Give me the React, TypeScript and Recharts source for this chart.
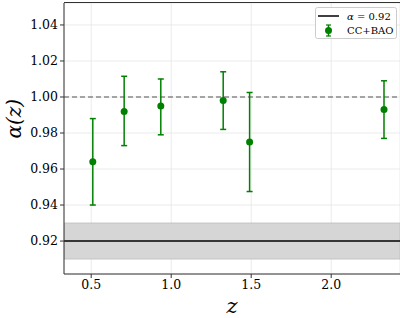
import React from 'react';
import {
  ComposedChart, Scatter, ErrorBar, XAxis, YAxis, CartesianGrid,
  ReferenceLine, ReferenceArea,
} from 'recharts';

const redshift = [0.51, 0.706, 0.935, 1.325, 1.49, 2.33];
const alphaValues = [0.964, 0.992, 0.995, 0.998, 0.975, 0.993];
const errLow = [0.024, 0.019, 0.016, 0.016, 0.0275, 0.016];
const errHigh = [0.024, 0.0195, 0.015, 0.016, 0.0275, 0.016];

const xTicks = [0.5, 1.0, 1.5, 2.0];
const yTicks = [0.92, 0.94, 0.96, 0.98, 1.0, 1.02, 1.04];

const alphaFixed = 0.92;
const bandLow = 0.91;
const bandHigh = 0.93;

const GREEN = '#008000';
const FONT = '"DejaVu Serif", serif';

const points = redshift.map((z, i) => ({
  z,
  alpha: alphaValues[i],
  err: [errLow[i], errHigh[i]],
}));

const Dot = (props: any) => {
  const { cx, cy } = props;
  return <circle cx={cx} cy={cy} r={3.5} fill={GREEN} />;
};

const LegendBox = () => (
  <svg width={82} height={32} style={{ display: 'block' }}>
    <rect x={0.5} y={0.5} width={81} height={31} rx={2} fill="#fff" stroke="#ccc" />
    <line x1={3} y1={9} x2={24} y2={9} stroke="#000" strokeWidth={1.5} />
    <text x={32} y={12.5} fontFamily={FONT} fontSize={10} fill="#000">
      <tspan fontStyle="italic">α</tspan> = 0.92
    </text>
    <line x1={13.5} y1={18} x2={13.5} y2={29} stroke={GREEN} strokeWidth={1.5} />
    <line x1={11} y1={18} x2={16} y2={18} stroke={GREEN} strokeWidth={1.2} />
    <line x1={11} y1={29} x2={16} y2={29} stroke={GREEN} strokeWidth={1.2} />
    <circle cx={13.5} cy={23.5} r={3.5} fill={GREEN} />
    <text x={32} y={27} fontFamily={FONT} fontSize={10} fill="#000">CC+BAO</text>
  </svg>
);

export default function App() {
  return (
    <div style={{ position: 'absolute', left: 0, top: 0, width: 400, height: 318, background: '#fff' }}>
      <ComposedChart width={400} height={318} data={points} margin={{ top: 3, right: 0, left: 0, bottom: 0 }}>
        <CartesianGrid stroke="#e6e6e6" strokeWidth={0.8} />
        <ReferenceArea y1={bandLow} y2={bandHigh} fill="#d6d6d6" fillOpacity={1} stroke="#bdbdbd" strokeWidth={0.8} ifOverflow="hidden" />
        <ReferenceLine y={alphaFixed} stroke="#000" strokeWidth={1.5} />
        <ReferenceLine y={1.0} stroke="#555" strokeWidth={1.2} strokeDasharray="5 3" />
        <XAxis
          dataKey="z"
          type="number"
          domain={[0.33, 2.43]}
          ticks={xTicks}
          allowDataOverflow
          height={44}
          tickFormatter={(v: number) => v.toFixed(1)}
          tick={{ fontFamily: FONT, fontSize: 12.5, fill: '#000' }}
          tickSize={4}
          stroke="#333"
          label={{ value: 'z', position: 'insideBottom', offset: 5, fontFamily: FONT, fontStyle: 'italic', fontSize: 21, fill: '#000' }}
        />
        <YAxis
          dataKey="alpha"
          type="number"
          domain={[0.9017, 1.0522]}
          ticks={yTicks}
          allowDataOverflow
          width={64}
          tickFormatter={(v: number) => v.toFixed(2)}
          tick={{ fontFamily: FONT, fontSize: 12.5, fill: '#000' }}
          tickSize={4}
          stroke="#333"
          label={{ value: 'α(z)', angle: -90, position: 'insideLeft', offset: 14, fontFamily: FONT, fontStyle: 'italic', fontSize: 20, fill: '#000' }}
        />
        <Scatter dataKey="alpha" fill={GREEN} shape={<Dot />} isAnimationActive={false}>
          <ErrorBar dataKey="err" direction="y" width={3} stroke={GREEN} strokeWidth={1.5} isAnimationActive={false} />
        </Scatter>
      </ComposedChart>
      <div style={{ position: 'absolute', left: 64, top: 2, width: 336, height: 1, background: '#333' }} />
      <div style={{ position: 'absolute', left: 315, top: 7 }}>
        <LegendBox />
      </div>
    </div>
  );
}
